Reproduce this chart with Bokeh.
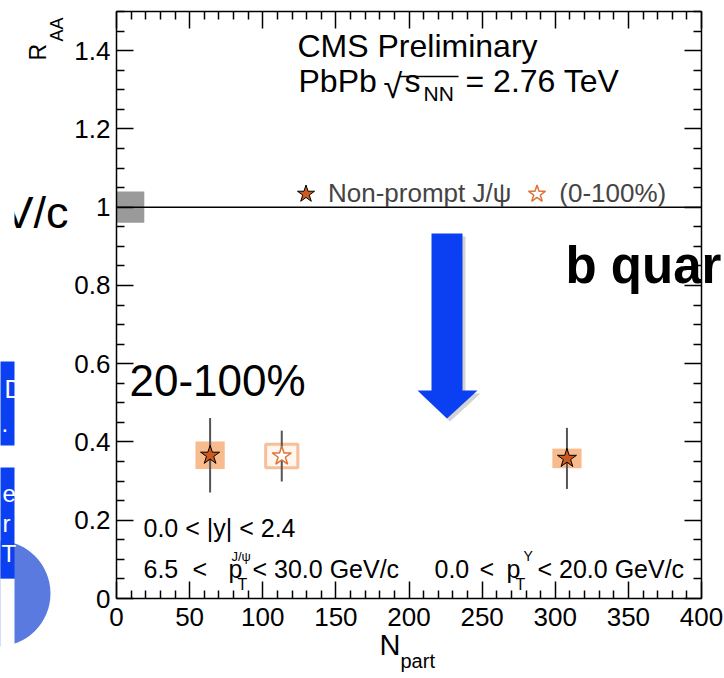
import math
from bokeh.plotting import figure
from bokeh.models import (Range1d, FixedTicker, LinearAxis, Label, BoxAnnotation,
                          PolyAnnotation, Legend, LegendItem, ColumnDataSource, Arrow)
from bokeh.embed import file_html
from bokeh.resources import INLINE

# ---------------- data ----------------
npart = [64, 308]              # Non-prompt J/psi, centrality bins
raa = [0.366, 0.358]
stat_err = [0.095, 0.078]
syst_err = [0.035, 0.025]

npart_mb = [113]               # 0-100 %
raa_mb = [0.364]
stat_err_mb = [0.065]
syst_err_mb = [0.030]

syst_box_width = [20, 20]      # N_part width of syst boxes
syst_box_width_mb = [22]
glob_unc = [0.04]              # global uncertainty box at R_AA = 1
glob_box = [0.0, 19.0]
unity = [1.0]

x_lim = [0, 400]
y_lim = [0, 1.5]
x_ticks = [0, 50, 100, 150, 200, 250, 300, 350, 400]
x_minor = [v for v in range(0, 401, 10) if v % 50]
y_ticks = [0, 0.2, 0.4, 0.6, 0.8, 1.0, 1.2, 1.4]
y_tick_labels = ["0", "0.2", "0.4", "0.6", "0.8", "1", "1.2", "1.4"]
y_minor = [round(0.05 * i, 2) for i in range(0, 31) if i % 4]

FONT = "Liberation Sans"
W, H = 724, 678

# pixel geometry of the data frame inside the page (for placing decorations)
FL, FR, FT, FB = 116, 701, 11, 598


def dx(px):
    return x_lim[0] + (px - FL) * (x_lim[1] - x_lim[0]) / (FR - FL)


def dy(py):
    return y_lim[0] + (FB - py) * (y_lim[1] - y_lim[0]) / (FB - FT)


p = figure(width=W, height=H, x_range=Range1d(dx(0), dx(W)), y_range=Range1d(dy(H), dy(0)),
           output_backend="svg", toolbar_location=None,
           x_axis_location=None, y_axis_location=None,
           min_border_left=0, min_border_right=0, min_border_top=0, min_border_bottom=0)
p.grid.visible = False
p.outline_line_color = None
p.background_fill_color = "white"
p.border_fill_color = "white"


def make_axis(ticks, minor, loc, bounds, labels=None, standoff=6):
    ax = LinearAxis(fixed_location=loc, bounds=tuple(bounds))
    ax.ticker = FixedTicker(ticks=ticks, minor_ticks=minor)
    ax.axis_line_color = "black"
    ax.axis_line_width = 1.5
    ax.major_tick_line_color = "black"
    ax.major_tick_line_width = 1.5
    ax.minor_tick_line_color = "black"
    ax.minor_tick_line_width = 1.5
    ax.major_tick_in = 17
    ax.major_tick_out = 0
    ax.minor_tick_in = 8
    ax.minor_tick_out = 0
    ax.major_label_text_font = FONT
    ax.major_label_text_font_size = "26px"
    ax.major_label_text_color = "black"
    ax.major_label_standoff = standoff
    if labels is None:
        ax.major_label_overrides = {t: "" for t in ticks}
    else:
        ax.major_label_overrides = {t: s for t, s in zip(ticks, labels)}
    return ax


p.add_layout(make_axis(x_ticks, x_minor, y_lim[0], x_lim, [str(t) for t in x_ticks], 9), "below")
p.add_layout(make_axis(y_ticks, y_minor, x_lim[0], y_lim, y_tick_labels, 6), "left")
p.add_layout(make_axis(x_ticks, x_minor, y_lim[1], x_lim), "above")
p.add_layout(make_axis(y_ticks, y_minor, x_lim[1], y_lim), "right")

# ---------------- data glyphs ----------------
src = ColumnDataSource(dict(
    x=npart, y=raa,
    lo=[v - e for v, e in zip(raa, stat_err)],
    hi=[v + e for v, e in zip(raa, stat_err)],
    h=[2 * e for e in syst_err], w=syst_box_width))
src_mb = ColumnDataSource(dict(
    x=npart_mb, y=raa_mb,
    lo=[v - e for v, e in zip(raa_mb, stat_err_mb)],
    hi=[v + e for v, e in zip(raa_mb, stat_err_mb)],
    h=[2 * e for e in syst_err_mb], w=syst_box_width_mb))

# global uncertainty box and unity line
p.quad(left=[glob_box[0]], right=[glob_box[1]], bottom=[unity[0] - glob_unc[0]],
       top=[unity[0] + glob_unc[0]], fill_color="#9a9a9a", line_color=None)
p.segment(x0=[x_lim[0]], x1=[x_lim[1]], y0=unity, y1=unity, line_color="black", line_width=1.5)

p.rect(x="x", y="y", width="w", height="h", source=src, fill_color="#f8bb8e", line_color=None)
p.rect(x="x", y="y", width="w", height="h", source=src_mb, fill_color="#fff6ef",
       line_color="#f6bf98", line_width=3)
p.segment(x0="x", y0="lo", x1="x", y1="hi", source=src, line_color="#555555", line_width=2)
p.segment(x0="x", y0="lo", x1="x", y1="hi", source=src_mb, line_color="#555555", line_width=2)
r_star = p.scatter(x="x", y="y", source=src, marker="star", size=20,
                   fill_color="#cc5a1e", line_color="black", line_width=1)
r_open = p.scatter(x="x", y="y", source=src_mb, marker="star", size=20,
                   fill_color="white", line_color="#e0743a", line_width=1.5)

legend = Legend(items=[LegendItem(label="Non-prompt J/ψ", renderers=[r_star]),
                       LegendItem(label="(0-100%)", renderers=[r_open])],
                location=(283, 462), orientation="horizontal",
                glyph_width=45, glyph_height=45, label_standoff=0, spacing=3,
                padding=0, margin=0, background_fill_alpha=0, border_line_color=None,
                label_text_font=FONT, label_text_font_size="26px")
p.add_layout(legend)

BASE_SHIFT = 0.4   # compensates where the "alphabetic" baseline is drawn


def lab(px, py, text, size, rot=False, **kw):
    kw.setdefault("text_font", FONT)
    kw.setdefault("text_color", "black")
    if rot:
        px -= BASE_SHIFT * size
        kw["angle"] = math.pi / 2
    else:
        py -= BASE_SHIFT * size
    p.add_layout(Label(x=dx(px), y=dy(py), text=text, text_font_size=f"{size}px",
                       text_baseline="alphabetic", **kw))


# ---------------- texts in the plot ----------------
lab(297, 58, "CMS Preliminary", 32)
lab(298, 93, "PbPb", 32)
lab(383, 99, "√", 34)
p.add_layout(Arrow(end=None, start=None, x_start=dx(399), y_start=dy(76), x_end=dx(458), y_end=dy(76),
                   line_color="black", line_width=1.5))
lab(404, 93, "s", 32)
lab(423, 101, "NN", 21)
lab(465, 93, "= 2.76 TeV", 32)

lab(143, 537, "0.0 < |y| < 2.4", 25)
lab(143, 578, "6.5", 25)
lab(192, 578, "<", 25)
lab(228, 578, "p", 25)
lab(237, 590, "T", 16)
lab(231, 561, "J/ψ", 13)
lab(252, 578, "< 30.0 GeV/c", 25)
lab(434, 578, "0.0", 25)
lab(479, 578, "<", 25)
lab(506, 578, "p", 25)
lab(515, 590, "T", 16)
lab(523, 561, "Υ", 14)
lab(537, 578, "< 20.0 GeV/c", 25)

# axis titles
lab(47, 60, "R", 23, rot=True)
lab(64, 41, "AA", 18, rot=True)
lab(379, 656, "N", 29)
lab(400, 668, "part", 20)

# ---------------- slide overlay elements ----------------
BLUE = "#0b40f2"
arrow_x = [431, 462, 462, 477, 446.5, 417, 431]
arrow_y = [233, 233, 390, 390, 418, 390, 390]
p.add_layout(PolyAnnotation(xs=[dx(v + 3) for v in arrow_x], ys=[dy(v + 3) for v in arrow_y],
                            fill_color="#808080", fill_alpha=0.35, line_color=None))
p.add_layout(PolyAnnotation(xs=[dx(v) for v in arrow_x], ys=[dy(v) for v in arrow_y],
                            fill_color=BLUE, fill_alpha=1, line_color=None))
lab(129, 398, "20-100%", 44)
lab(565, 285, "b quar", 51, text_font_style="bold")
lab(68, 230, "V/c", 45, text_align="right")

p.add_layout(BoxAnnotation(left=dx(-56), right=dx(50), top=dy(540), bottom=dy(646),
                           fill_color="#5a7ae0", fill_alpha=1, line_color=None, border_radius=53))
p.add_layout(BoxAnnotation(left=dx(-5), right=dx(14), top=dy(-5), bottom=dy(361),
                           fill_color="white", fill_alpha=1, line_color=None))
p.add_layout(BoxAnnotation(left=dx(-5), right=dx(14), top=dy(578), bottom=dy(683),
                           fill_color="white", fill_alpha=1, line_color=None))
p.add_layout(BoxAnnotation(left=dx(-5), right=dx(14), top=dy(361), bottom=dy(445),
                           fill_color=BLUE, fill_alpha=1, line_color=None))
p.add_layout(BoxAnnotation(left=dx(-5), right=dx(14), top=dy(467), bottom=dy(578),
                           fill_color=BLUE, fill_alpha=1, line_color=None))
lab(4, 398, "D", 25, text_color="white")
lab(1, 433, ".", 24, text_color="white")
lab(2, 503, "e", 24, text_color="white")
lab(2, 533, "r", 24, text_color="white")
lab(1, 563, "T", 24, text_color="white")

open("out.html", "w").write(file_html(p, INLINE))
